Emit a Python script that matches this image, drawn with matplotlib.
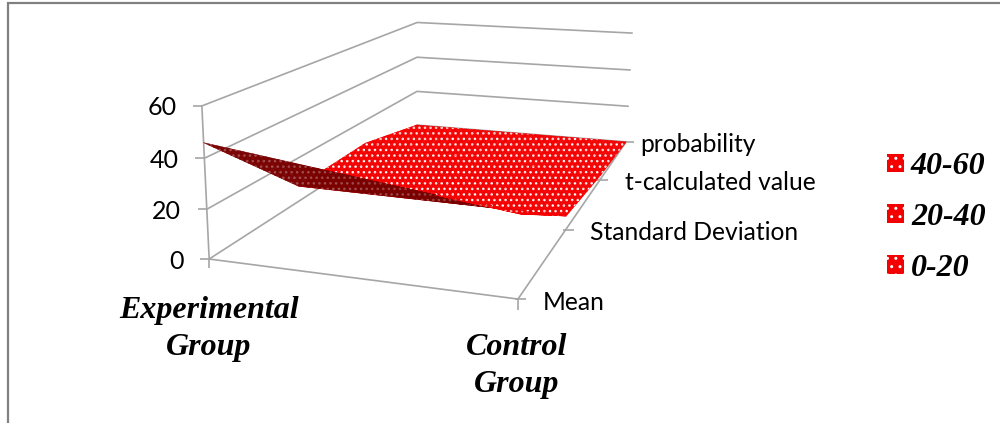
import numpy as np
import matplotlib
matplotlib.use("Agg")
import matplotlib.pyplot as plt
from matplotlib.collections import PolyCollection
from matplotlib.patches import Patch

# Chart data
groups = ["Experimental\nGroup", "Control\nGroup"]
measures = ["Mean", "Standard Deviation", "t-calculated value", "probability"]
experimental = [46.0, 7.0, 8.0, 0.0]
control = [31.0, 6.0, 2.0, 0.0]
z_ticks = [0, 20, 40, 60]
bands = ["40-60", "20-40", "0-20"]

RED = "#F40000"
DARK = "#7A0000"
GRID = "#A6A6A6"
Z_MAX = 60.0

# Pixel positions of the plot box corners: unit box coordinate -> canvas position
box_unit = np.array([[0, 0, 0], [1, 0, 0], [0, 1, 0], [1, 1, 0],
                     [0, 0, 1], [0, 1, 1], [1, 1, 1]], float)
box_px = np.array([[209, 259], [518, 299], [417, 125], [626, 142],
                   [202, 106], [417, 22.5], [632, 33]], float)


def fit_camera(world, px):
    """Least-squares 3x4 projective camera through the box corners."""
    rows, rhs = [], []
    for (x, y, z), (u, v) in zip(world, px):
        rows.append([x, y, z, 1, 0, 0, 0, 0, -u * x, -u * y, -u * z])
        rhs.append(u)
        rows.append([0, 0, 0, 0, x, y, z, 1, -v * x, -v * y, -v * z])
        rhs.append(v)
    sol = np.linalg.lstsq(np.array(rows), np.array(rhs), rcond=None)[0]
    return np.append(sol, 1.0).reshape(3, 4)


CAM = fit_camera(box_unit, box_px)


def project(x, y, z):
    """Map (category pos, series pos, value) to canvas coordinates."""
    x, y, z = np.broadcast_arrays(np.asarray(x, float), np.asarray(y, float),
                                  np.asarray(z, float) / Z_MAX)
    p = np.stack([x, y, z, np.ones_like(x)], axis=-1) @ CAM.T
    return p[..., :2] / p[..., 2:3]


fig = plt.figure(figsize=(10, 4.23), dpi=100)
ax = fig.add_axes([0, 0, 1, 1])
ax.set_xlim(0, 1000)
ax.set_ylim(423, 0)
ax.axis("off")

# Outer frame
ax.plot([8, 8, 1000], [423, 3, 3], color="#808080", lw=1.6, solid_joinstyle="miter")


def seg(a, b, **kw):
    pts = np.array([a, b])
    ax.plot(pts[:, 0], pts[:, 1], color=GRID, lw=1.2, solid_capstyle="butt", **kw)


# Wall gridlines, floor outline and axis ticks
for t in z_ticks:
    path = project([0, 0, 1], [0, 1, 1], [t, t, t])
    ax.plot(path[:, 0], path[:, 1], color=GRID, lw=1.2)
    start = project(0, 0, t)
    seg(start + [-9, 0], start)
    ax.text(start[0] - 25.5, start[1] + 2, str(t), ha="right", va="center",
            family="Lato", fontsize=18, color="black")
seg(project(0, 0, 0), project(0, 0, 60))
seg(project(0, 0, 0), project(1, 0, 0))
seg(project(1, 0, 0), project(1, 1, 0))
corner = project(0, 0, 0)
seg(corner, corner + [0, 9])
corner = project(1, 0, 0)
seg(corner, corner + [0, 11])

ys = np.linspace(0, 1, len(measures))
label_x = [543, 590, 625, 640]
label_y = [302, 233, 183, 144]
for y, name, lx, ly in zip(ys, measures, label_x, label_y):
    p = project(1, y, 0)
    seg(p + [-3, 0], p + [8, 0])
    ax.text(lx, ly, name, ha="left", va="center", family="Lato", fontsize=17.7,
            color="black")

# Category labels
for name, cx, cy in zip(groups, [209, 517], [329, 366]):
    ax.text(cx, cy, name, ha="center", va="center", family="Liberation Serif",
            style="italic", weight="bold", fontsize=23, linespacing=1.4)

# Surface, drawn strip by strip from the back towards the viewer
vals = np.array([experimental, control])
N = 24
for s in range(len(measures) - 2, -1, -1):
    polys, colors, dots = [], [], []
    for i in range(N - 1, -1, -1):
        v0, v1 = i / N, (i + 1) / N
        for j in range(N):
            u0, u1 = j / N, (j + 1) / N
            cell = []
            for u, v in [(u0, v0), (u1, v0), (u1, v1), (u0, v1)]:
                z0 = vals[0, s] * (1 - v) + vals[0, s + 1] * v
                z1 = vals[1, s] * (1 - v) + vals[1, s + 1] * v
                cell.append(project(u, ys[s] + (ys[s + 1] - ys[s]) * v,
                                    z0 * (1 - u) + z1 * u))
            cell = np.array(cell)
            x_, y_ = cell[:, 0], cell[:, 1]
            area = np.sum(x_ * np.roll(y_, -1) - np.roll(x_, -1) * y_)
            # The upper face of the sheet is the one winding negatively on the canvas
            top = area < 0
            polys.append(cell)
            colors.append(RED if top else DARK)
            dots.append("white" if top else "#A86060")
    ax.add_collection(PolyCollection(polys, facecolors=colors, edgecolors=colors,
                                     linewidths=0.4, zorder=3))
    for shade in ("white", "#A86060"):
        picked = [p for p, d in zip(polys, dots) if d == shade]
        if picked:
            ax.add_collection(PolyCollection(picked, facecolors="none",
                                             edgecolors=shade, linewidths=0,
                                             hatch="...", zorder=3))

# Legend
handles = [Patch(facecolor=RED, edgecolor="white", hatch="..", linewidth=0)
           for _ in bands]
ax.legend(handles, bands, loc="upper left", bbox_to_anchor=(0.887, 0.64),
          frameon=False, handlelength=0.53, handleheight=0.53, handletextpad=0.22,
          labelspacing=0.68, borderpad=0, borderaxespad=0,
          prop={"family": "Liberation Serif", "style": "italic",
                "weight": "bold", "size": 23})

fig.savefig("out.png", dpi=100)
